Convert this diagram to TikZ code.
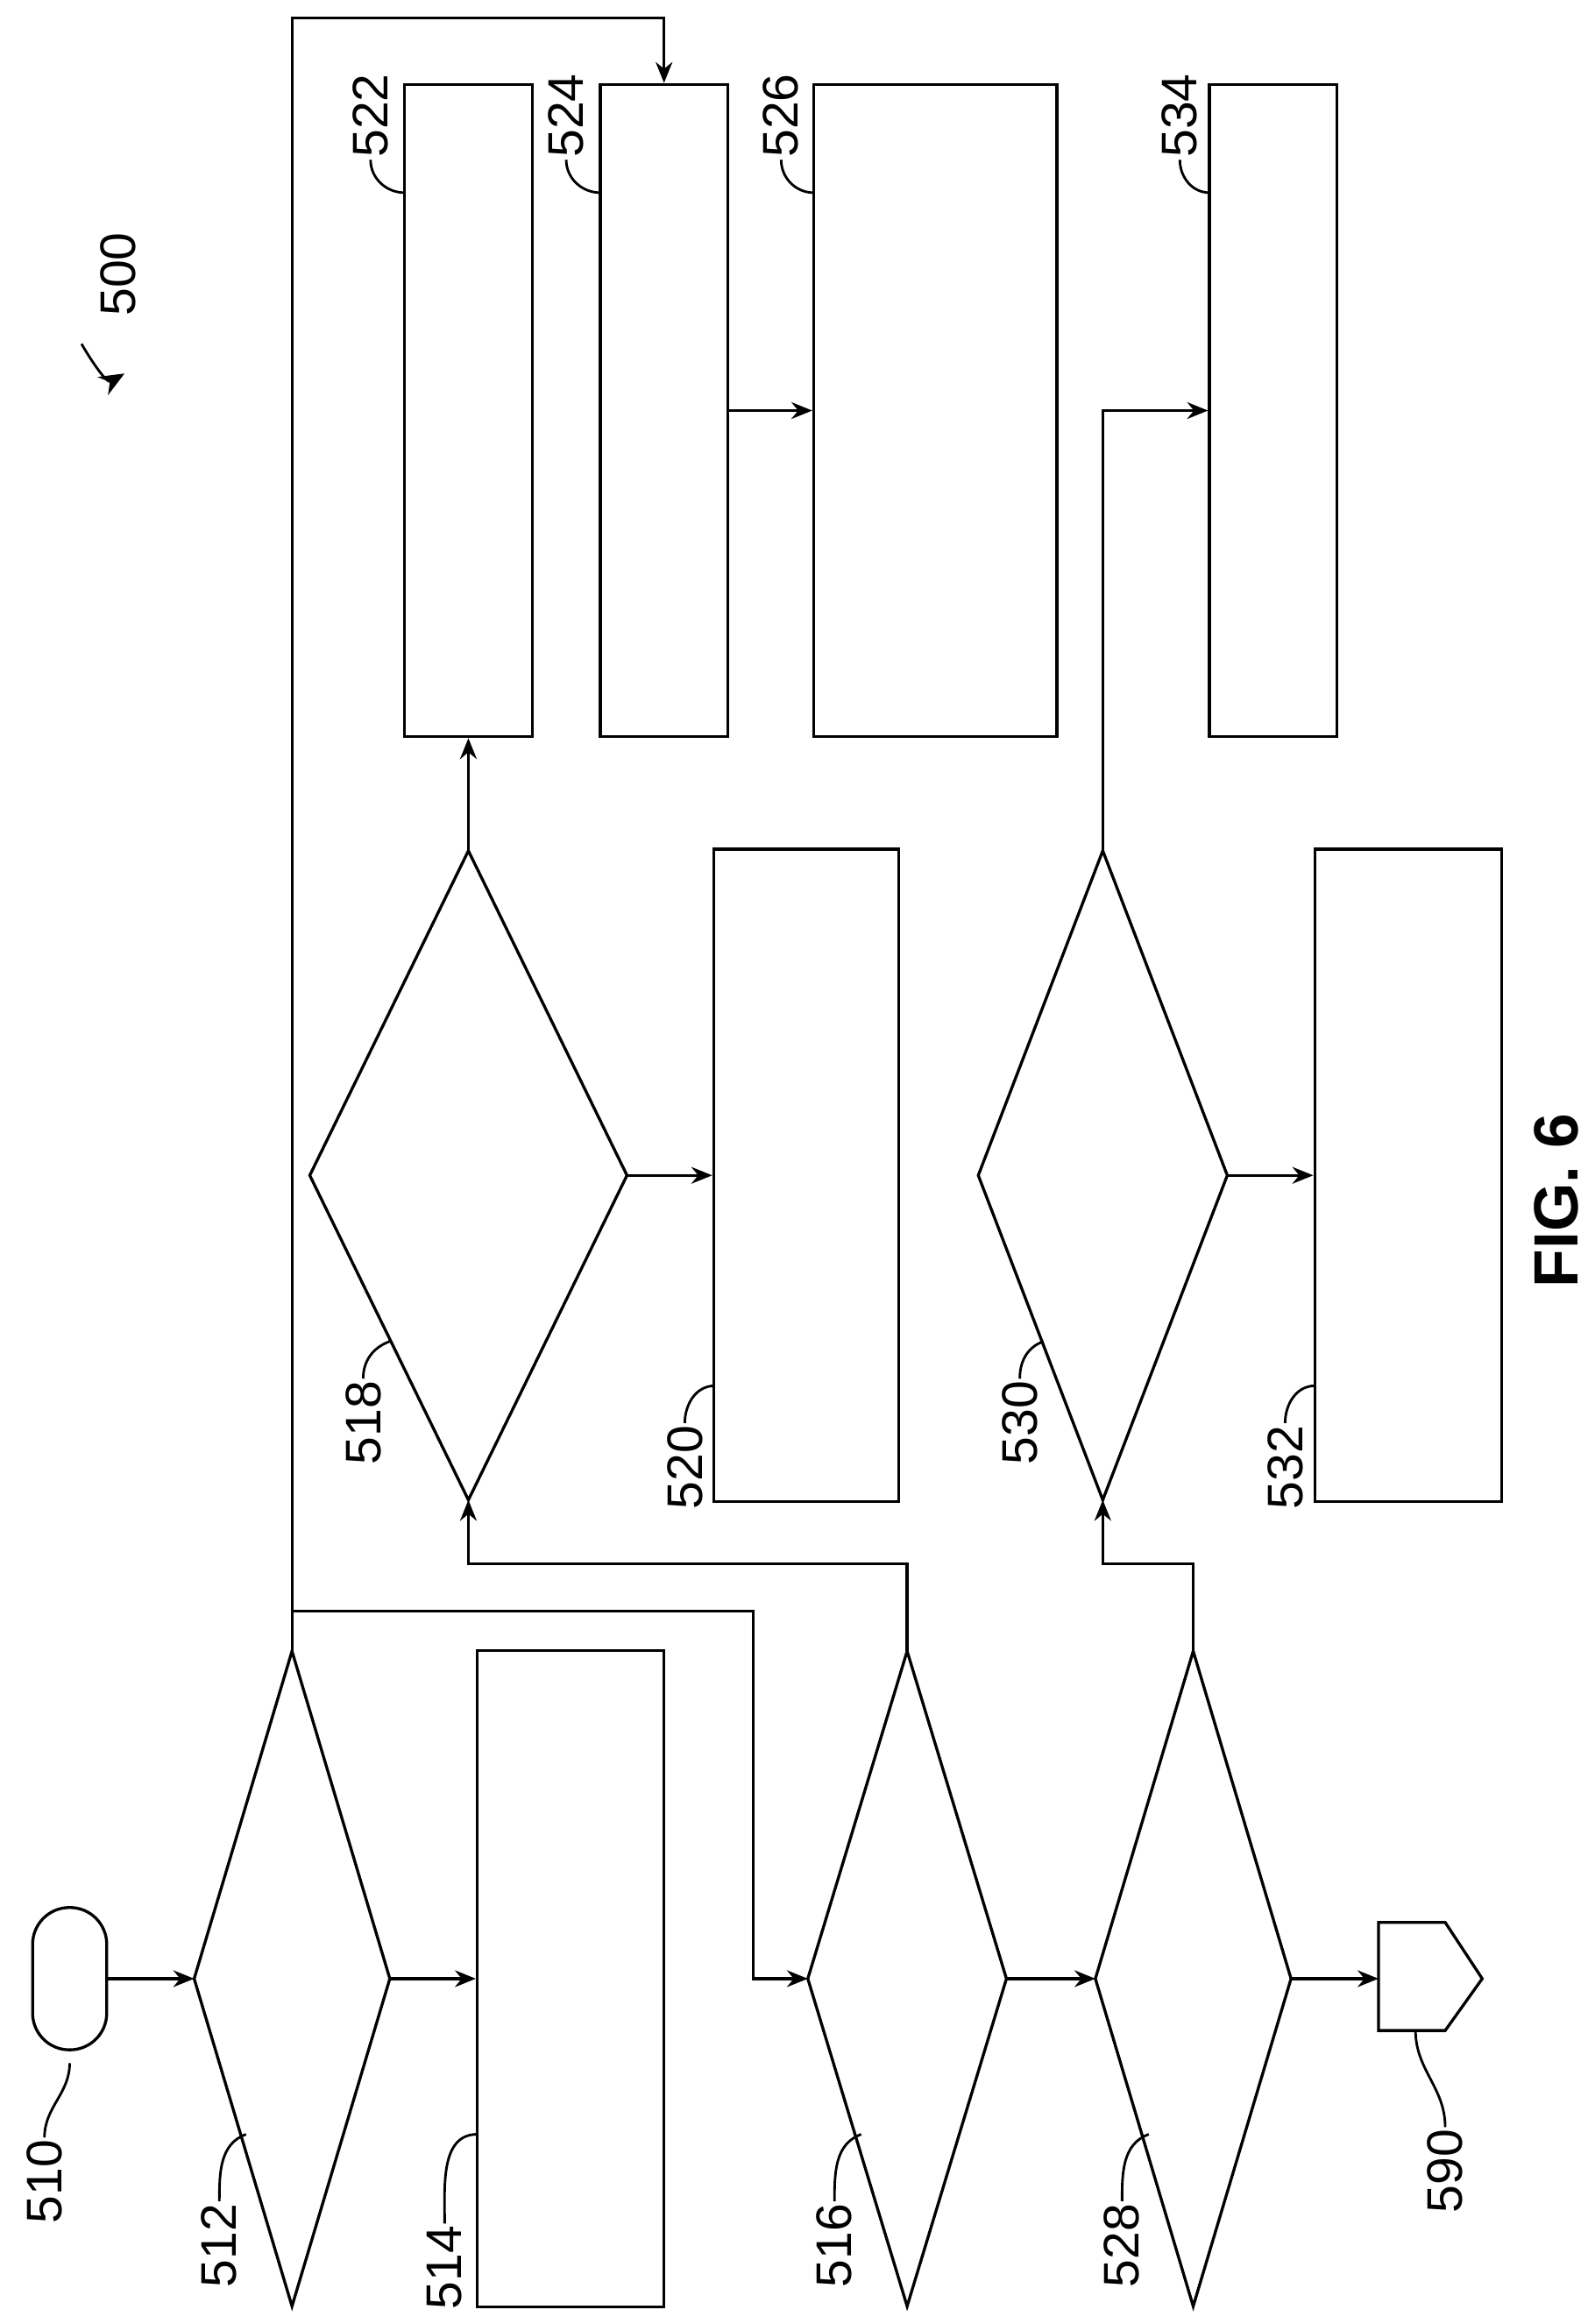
\documentclass[tikz,border=0pt]{standalone}
\usepackage{fontspec}
\setmainfont{Liberation Sans}
\usetikzlibrary{arrows.meta,positioning}
\tikzset{
  box/.style={draw, line width=1.4pt, minimum height=11cm, inner sep=0pt},
  flow/.style={line width=1.4pt, -{Stealth[length=10pt,width=8pt]}},
  line/.style={line width=1.4pt},
  lbl/.style={rotate=90, font=\fontsize{24}{24}\selectfont, inner sep=1pt},
  lead/.style={line width=1.2pt},
}
% diamond corners: name, cx, cy, half width, half height
\newcommand\diam[5]{%
  \coordinate (#1-l) at (#2-#4,#3);
  \coordinate (#1-r) at (#2+#4,#3);
  \coordinate (#1-t) at (#2,#3-#5);
  \coordinate (#1-b) at (#2,#3+#5);
  \draw[line, line join=miter] (#1-l) -- (#1-t) -- (#1-r) -- (#1-b) -- cycle;}
\begin{document}
\begin{tikzpicture}[x=0.025cm, y=-0.025cm]
\useasboundingbox (0,0) rectangle (1076,1568);

% start
\node[draw, line width=1.4pt, rounded corners=0.62cm, minimum width=1.25cm, minimum height=2.4cm, inner sep=0pt] (s510) at (47,1335) {};

% decisions
\diam{d512}{197}{1335}{66}{221}
\diam{d516}{612}{1335}{67}{221}
\diam{d528}{805}{1335}{66}{221}
\diam{d518}{316}{793}{107}{219}
\diam{d530}{744}{793}{84}{219}

% process boxes
\node[box, minimum width=3.15cm, minimum height=11.075cm] (b514) at (385,1335) {};
\node[box, minimum width=3.125cm] (b520) at (544,793) {};
\node[box, minimum width=3.15cm] (b532) at (950,793) {};
\node[box, minimum width=2.15cm] (b522) at (316,277) {};
\node[box, minimum width=2.15cm] (b524) at (448,277) {};
\node[box, minimum width=4.1cm] (b526) at (631,277) {};
\node[box, minimum width=2.15cm] (b534) at (859,277) {};

% off-page connector
\coordinate (e590) at (930,1335);
\draw[line, line join=miter] (930,1297) -- (975,1297) -- (1000,1335) -- (975,1370) -- (930,1370) -- cycle;

% connectors
\draw[flow] (s510.east) -- (d512-l);
\draw[flow] (d512-r) -- (b514.west);
\draw[flow] (d512-t) -- (197,12) -| (b524.north);
\draw[flow] (197,1087) -| (508,1335) -- (d516-l);
\draw[flow] (d516-t) -- (612,1055) -| (d518-b);
\draw[flow] (d518-r) -- (b520.west);
\draw[flow] (d518-t) -- (b522.south);
\draw[flow] (b524.east) -- (b526.west);
\draw[flow] (d516-r) -- (d528-l);
\draw[flow] (d528-t) -- (805,1055) -| (d530-b);
\draw[flow] (d530-r) -- (b532.west);
\draw[flow] (d530-t) |- (b534.west);
\draw[flow] (d528-r) -- (e590);

% reference labels
\node[lbl] (l510) at (30,1472) {510};
\draw[lead] (l510.east) to[out=90,in=-90] (47,1392);
\node[lbl] (l512) at (148,1515) {512};
\draw[lead] (l512.east) to[out=90,in=200] (166,1440);
\node[lbl] (l514) at (300,1530) {514};
\draw[lead] (l514.east) to[out=90,in=180] (322,1440);
\node[lbl] (l516) at (563,1515) {516};
\draw[lead] (l516.east) to[out=90,in=200] (581,1440);
\node[lbl] (l528) at (757,1515) {528};
\draw[lead] (l528.east) to[out=90,in=200] (775,1440);
\node[lbl] (l590) at (975,1465) {590};
\draw[lead] (l590.east) to[out=90,in=-90] (955,1370);
\node[lbl] (l518) at (245,960) {518};
\draw[lead] (l518.east) to[out=90,in=200] (263,905);
\node[lbl] (l520) at (462,990) {520};
\draw[lead] (l520.east) to[out=90,in=180] (482,935);
\node[lbl] (l530) at (688,960) {530};
\draw[lead] (l530.east) to[out=90,in=200] (704,905);
\node[lbl] (l532) at (867,990) {532};
\draw[lead] (l532.east) to[out=90,in=180] (887,935);
\node[lbl] (l522) at (250,78) {522};
\draw[lead] (l522.west) to[out=-90,in=180] (273,130);
\node[lbl] (l524) at (382,78) {524};
\draw[lead] (l524.west) to[out=-90,in=180] (405,130);
\node[lbl] (l526) at (527,78) {526};
\draw[lead] (l526.west) to[out=-90,in=180] (549,130);
\node[lbl] (l534) at (796,78) {534};
\draw[lead] (l534.west) to[out=-90,in=180] (816,130);
\node[lbl] (l500) at (80,185) {500};
\draw[lead, -{Stealth[length=12pt,width=10pt]}] (55,232) to[out=-60,in=-150] (84,252);

\node[rotate=90, font=\fontsize{30}{30}\selectfont\bfseries] (fig) at (1050,810) {FIG. 6};
\end{tikzpicture}
\end{document}
